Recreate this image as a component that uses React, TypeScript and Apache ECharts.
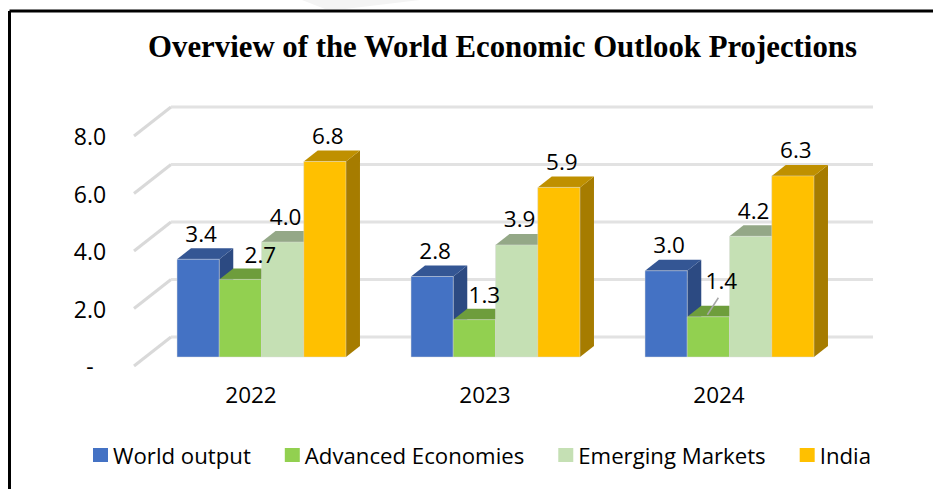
import React, { useEffect, useRef } from "react";
import * as echarts from "echarts";

const categories = ["2022", "2023", "2024"];
const seriesNames = ["World output", "Advanced Economies", "Emerging Markets", "India"];
const worldOutput = [3.4, 2.8, 3.0];
const advancedEconomies = [2.7, 1.3, 1.4];
const emergingMarkets = [4.0, 3.9, 4.2];
const india = [6.8, 5.9, 6.3];
const gridValues = [0, 2, 4, 6, 8];
const seriesValues = [worldOutput, advancedEconomies, emergingMarkets, india];

const FRONT = ["#4472c4", "#92d050", "#c5e0b4", "#ffc000"];
const TOP = ["#345694", "#6e9d3c", "#94a887", "#bf9000"];
const SIDE = ["#2c4a82", "#5f8a34", "#8aa07c", "#a67c00"];
const FONT = "'Open Sans', sans-serif";

// depth of the 3D box
const WALL_DX = 37;
const WALL_DY = 29;
const BAR_SHIFT_X = 10.5;
const BAR_SHIFT_Y = 9;
const BAR_DX = 14;
const BAR_DY = 11;
const BAR_RATIO = 0.1805;
// manual label nudges "series-category": [dx, dy]
const labelNudge: Record<string, [number, number]> = {
  "1-0": [17, 1],
  "1-1": [7, 1],
  "1-2": [10, -10],
};

function barGeom(api: any, si: number, cat: number, val: number) {
  const band = api.size([1, 0])[0];
  const w = band * BAR_RATIO;
  const c = api.coord([cat, val]);
  const b = api.coord([cat, 0]);
  const x = c[0] + BAR_SHIFT_X + (si - 2) * w;
  return { x, w, top: c[1] - BAR_SHIFT_Y, base: b[1] - BAR_SHIFT_Y };
}

export default function App() {
  const ref = useRef<HTMLDivElement>(null);
  useEffect(() => {
    document.body.style.margin = "0";
    document.body.style.background = "#fff";
    const chart = echarts.init(ref.current!, undefined, { renderer: "svg" });

    const barSeries = seriesNames.map((name, si) => ({
      type: "custom" as const,
      name,
      coordinateSystem: "cartesian2d",
      z: 3 + si,
      itemStyle: { color: FRONT[si] },
      encode: { x: 0, y: 1 },
      data: categories.map((_, i) => [i, seriesValues[si][i]]),
      renderItem: (_p: any, api: any) => {
        const g = barGeom(api, si, api.value(0), api.value(1));
        const r = g.x + g.w;
        return {
          type: "group",
          children: [
            {
              type: "polygon",
              shape: { points: [[r, g.top], [r + BAR_DX, g.top - BAR_DY], [r + BAR_DX, g.base - BAR_DY], [r, g.base]] },
              style: { fill: SIDE[si] },
            },
            {
              type: "polygon",
              shape: { points: [[g.x, g.top], [g.x + BAR_DX, g.top - BAR_DY], [r + BAR_DX, g.top - BAR_DY], [r, g.top]] },
              style: { fill: TOP[si] },
            },
            {
              type: "rect",
              shape: { x: g.x, y: g.top, width: g.w, height: g.base - g.top },
              style: { fill: FRONT[si], stroke: "rgba(220,220,220,0.45)", lineWidth: 1 },
            },
          ],
        };
      },
    }));

    const wallSeries = {
      type: "custom" as const,
      name: "walls",
      coordinateSystem: "cartesian2d",
      silent: true,
      z: 1,
      encode: { y: 0 },
      data: gridValues.map((v) => [v]),
      renderItem: (p: any, api: any) => {
        const pt = api.coord([0, api.value(0)]);
        const x0 = p.coordSys.x;
        const x1 = x0 + p.coordSys.width;
        const y = pt[1];
        return {
          type: "group",
          children: [
            { type: "line", shape: { x1: x0, y1: y, x2: x0 + WALL_DX, y2: y - WALL_DY }, style: { stroke: "#d9d9d9", lineWidth: 3 } },
            { type: "line", shape: { x1: x0 + WALL_DX, y1: y - WALL_DY, x2: x1 + WALL_DX, y2: y - WALL_DY }, style: { stroke: "#e2e2e2", lineWidth: 3 } },
          ],
        };
      },
    };

    const labelData: number[][] = [];
    seriesValues.forEach((vals, si) => vals.forEach((v, i) => labelData.push([i, v, si])));
    const labelSeries = {
      type: "custom" as const,
      name: "labels",
      coordinateSystem: "cartesian2d",
      silent: true,
      z: 20,
      encode: { x: 0, y: 1 },
      data: labelData,
      renderItem: (_p: any, api: any) => {
        const cat = api.value(0);
        const val = api.value(1);
        const si = api.value(2);
        const g = barGeom(api, si, cat, val);
        const n = labelNudge[si + "-" + cat] || [0, 0];
        const cx = g.x + g.w / 2 + 3 + n[0];
        const cy = g.top - 26 + n[1];
        const children: any[] = [
          {
            type: "text",
            style: { text: val.toFixed(1), x: cx, y: cy, align: "center", verticalAlign: "middle", fontFamily: FONT, fontSize: 22.5, fill: "#000" },
          },
        ];
        if (si === 1 && cat === 2) {
          children.push({
            type: "line",
            shape: { x1: cx - 3, y1: cy + 17, x2: cx - 14, y2: cy + 34 },
            style: { stroke: "#a6a6a6", lineWidth: 1.5 },
          });
        }
        return { type: "group", children };
      },
    };

    chart.setOption({
      animation: false,
      backgroundColor: "#fff",
      title: {
        text: "Overview of the World Economic Outlook Projections",
        left: 497.5,
        top: 26,
        textAlign: "center",
        textStyle: { fontFamily: "'Liberation Serif', serif", fontWeight: "bold", fontSize: 30.8, color: "#000" },
      },
      grid: { left: 134, top: 136, width: 702, height: 230, containLabel: false },
      xAxis: {
        type: "category",
        data: categories,
        axisLine: { show: false },
        axisTick: { show: false },
        axisLabel: { margin: 17, fontFamily: FONT, fontSize: 22.5, color: "#000" },
      },
      yAxis: {
        type: "value",
        min: 0,
        max: 8,
        interval: 2,
        axisLine: { show: false },
        axisTick: { show: false },
        splitLine: { show: false },
        axisLabel: {
          margin: 44,
          align: "center",
          fontFamily: FONT,
          fontSize: 23,
          color: "#000",
          formatter: (v: number) => (v === 0 ? "-" : v.toFixed(1)),
        },
      },
      legend: {
        data: seriesNames,
        left: 88,
        top: 439,
        icon: "rect",
        itemWidth: 15,
        itemHeight: 14,
        itemGap: 34,
        textStyle: { fontFamily: FONT, fontSize: 22.2, color: "#000", padding: [0, 0, 0, 0] },
      },
      graphic: [
        { type: "polygon", silent: true, shape: { points: [[302, 0], [420, 0], [345, 9], [325, 9]] }, style: { fill: "#f4f4f4" } },
        { type: "line", silent: true, shape: { x1: 9.5, y1: 11, x2: 933, y2: 11 }, style: { stroke: "#000", lineWidth: 3 } },
        { type: "line", silent: true, shape: { x1: 9.5, y1: 11, x2: 9.5, y2: 489 }, style: { stroke: "#000", lineWidth: 3 } },
      ],
      series: [wallSeries, ...barSeries, labelSeries],
    });
    return () => chart.dispose();
  }, []);
  return <div ref={ref} style={{ position: "absolute", left: 0, top: 0, width: 933, height: 489 }} />;
}
